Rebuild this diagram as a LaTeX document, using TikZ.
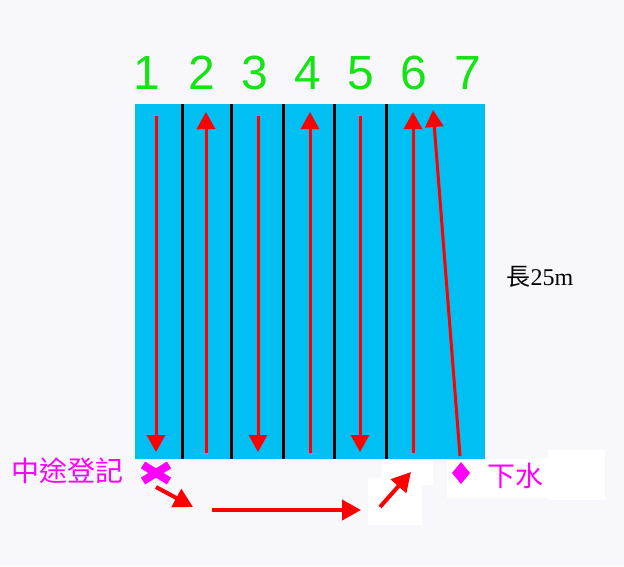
\documentclass[tikz,border=0pt]{standalone}
\usepackage{fontspec}
\setmainfont{Liberation Sans}
\newfontfamily\cjk{Noto Sans CJK TC}
\newfontfamily\serifnum{Liberation Serif}
\usetikzlibrary{calc,arrows.meta}
\definecolor{poolblue}{RGB}{0,191,243}
\definecolor{lanegreen}{RGB}{20,228,20}
\definecolor{paper}{RGB}{247,247,252}
\definecolor{pink}{RGB}{255,0,255}

\begin{document}
\begin{tikzpicture}[x=1pt,y=-1pt,
    lanearrow/.style={red,line width=3pt,-{Triangle[width=18pt,length=17pt]}},
    walkarrow/.style={red,line width=4pt,-{Triangle[width=20pt,length=19pt]}},
    pinktext/.style={text=pink,inner sep=0pt,font=\cjk\fontsize{28}{28}\selectfont}]
      \fill[paper] (0,0) rectangle (624,566);
      \useasboundingbox (0,0) rectangle (624,566);
      % white patches below the pool
      \fill[white] (382,459) rectangle (433,485);
      \fill[white] (368,478) rectangle (422,525);
      \fill[white] (447,459) rectangle (550,498);
      \fill[white] (548,450) rectangle (605,500);
      % pool and lane lines
      \fill[poolblue] (135,104) rectangle (485,459);
      \foreach \x in {182,231,283,334,386} \draw[black,line width=3pt] (\x,104) -- (\x,459);
      % lane numbers and swim directions
      \foreach \k/\x in {1/147,2/202,3/255,4/308,5/361,6/414,7/468}
        \node[text=lanegreen,font=\fontsize{48}{48}\selectfont] (num\k) at (\x,73) {\k};
      \foreach \k/\x in {1/156,3/258,5/360} {
        \coordinate (top\k) at (\x,116); \coordinate (bot\k) at (\x,452);
        \draw[lanearrow] (top\k) -- (bot\k);}
      \foreach \k/\x in {2/206,4/310,6/413} {
        \coordinate (bot\k) at (\x,453); \coordinate (top\k) at (\x,112);
        \draw[lanearrow] (bot\k) -- (top\k);}
      \coordinate (bot7) at (460,456); \coordinate (top7) at (433,110);
      \draw[lanearrow] (bot7) -- (top7);
      % labels
      \node[font=\fontsize{24}{24}\selectfont] (len) at (540,277) {{\cjk 長}{\serifnum 25m}};
      \node[pinktext] (midway) at (68,471) {中途登記};
      \node[pinktext] (entry) at (515,476) {下水};
      % marks
      \coordinate (X) at (156,473);
      \draw[pink,line width=8pt] ($(X)+(-13,-8)$) -- ($(X)+(13,8)$) ($(X)+(-13,8)$) -- ($(X)+(13,-8)$);
      \coordinate (D) at (461,473);
      \fill[pink] ($(D)+(0,-11)$) -- ($(D)+(9,0)$) -- ($(D)+(0,11)$) -- ($(D)+(-9,0)$) -- cycle;
      % walking route
      \coordinate (w1) at (156,487); \coordinate (w2) at (193,507);
      \coordinate (w3) at (212,510); \coordinate (w4) at (361,510);
      \coordinate (w5) at (380,507); \coordinate (w6) at (411,472);
      \draw[walkarrow] (w1) -- (w2);
      \draw[walkarrow] (w3) -- (w4);
      \draw[walkarrow] (w5) -- (w6);
    \end{tikzpicture}
\end{document}
